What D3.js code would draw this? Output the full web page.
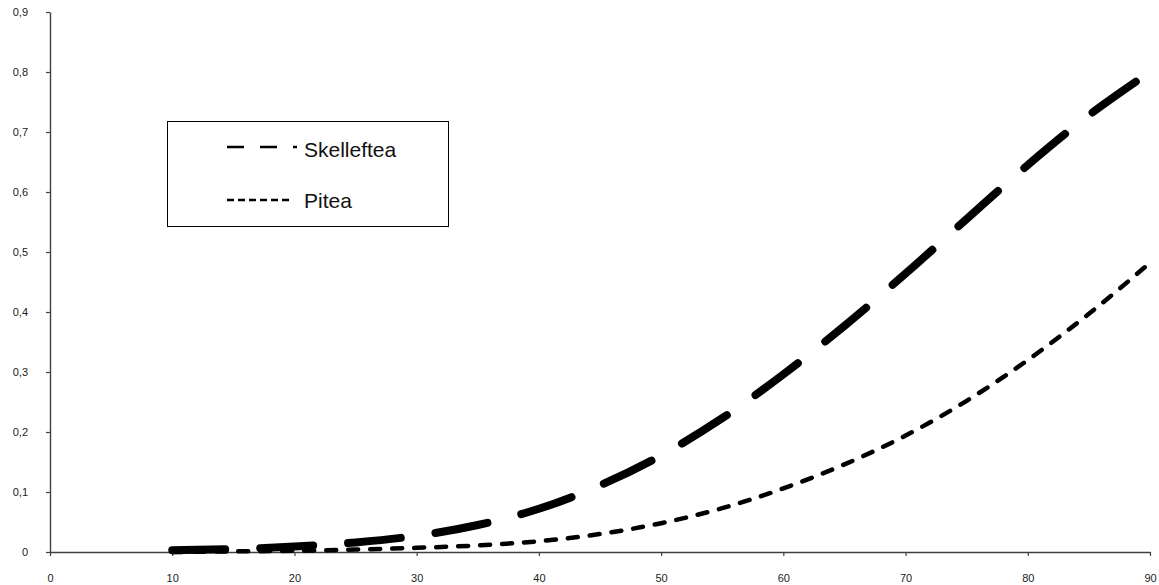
<!DOCTYPE html>
<html>
<head>
<meta charset="utf-8">
<script src="https://cdn.jsdelivr.net/npm/d3@7"></script>
<style>
	body { margin: 0; background: #fff; }
	svg { display: block; font-family: "Liberation Sans", Arial, sans-serif; }
</style>
</head>
<body>
<svg width="1159" height="585"></svg>
<script>

	// values
	var skelleftea_x = [10, 15, 20, 25, 30, 35, 40, 45, 50, 55, 60, 65, 70, 75, 80, 85, 89];
	var skelleftea_y = [0.003, 0.005, 0.009, 0.016, 0.027, 0.045, 0.072, 0.111, 0.161, 0.223, 0.296, 0.377, 0.464, 0.555, 0.645, 0.728, 0.786];

	var pitea_x = [10, 15, 20, 25, 30, 35, 40, 45, 50, 55, 60, 65, 70, 75, 80, 85, 90];
	var pitea_y = [0.000, 0.001, 0.002, 0.004, 0.007, 0.011, 0.018, 0.030, 0.048, 0.073, 0.106, 0.146, 0.194, 0.252, 0.320, 0.397, 0.482];

	var x_ticks = [0, 10, 20, 30, 40, 50, 60, 70, 80, 90];
	var x_tick_labels = ["0", "10", "20", "30", "40", "50", "60", "70", "80", "90"];
	var y_ticks = [0, 0.1, 0.2, 0.3, 0.4, 0.5, 0.6, 0.7, 0.8, 0.9];
	var y_tick_labels = ["0", "0,1", "0,2", "0,3", "0,4", "0,5", "0,6", "0,7", "0,8", "0,9"];

	var series_names = ["Skelleftea", "Pitea"];

	var svg = d3.select("svg");

	var x = d3.scaleLinear().domain([0, 90]).range([50, 1150]);
	var y = d3.scaleLinear().domain([0, 0.9]).range([552, 12]);

	function zip(xs, ys){
		return xs.map(function(v, i){ return [v, ys[i]]; });
	}

	var line = d3.line()
		.x(function(d){ return x(d[0]); })
		.y(function(d){ return y(d[1]); })
		.curve(d3.curveMonotoneX);

	// axes
	var x_axis = svg.append("g")
		.attr("transform", "translate(0," + y(0) + ")")
		.call(d3.axisBottom(x)
			.tickValues(x_ticks)
			.tickFormat(function(d, i){ return x_tick_labels[i]; })
			.tickSize(4)
			.tickSizeOuter(0)
			.tickPadding(18));

	var y_axis = svg.append("g")
		.attr("transform", "translate(" + x(0) + ",0)")
		.call(d3.axisLeft(y)
			.tickValues(y_ticks)
			.tickFormat(function(d, i){ return y_tick_labels[i]; })
			.tickSize(4)
			.tickSizeOuter(0)
			.tickPadding(18));

	[x_axis, y_axis].forEach(function(a){
		a.select(".domain").attr("stroke", "#404040").attr("stroke-width", 1.4);
		a.selectAll(".tick line").attr("stroke", "#404040").attr("stroke-width", 1.2);
		a.selectAll(".tick text").attr("fill", "#222").style("font-size", "11px").style("font-family", "'Liberation Sans', Arial, sans-serif");
	});

	// curves
	svg.append("path")
		.datum(zip(pitea_x, pitea_y))
		.attr("d", line)
		.attr("fill", "none")
		.attr("stroke", "#000")
		.attr("stroke-width", 4.5)
		.attr("stroke-linecap", "round")
		.attr("stroke-dasharray", "10,12");

	svg.append("path")
		.datum(zip(skelleftea_x, skelleftea_y))
		.attr("d", line)
		.attr("fill", "none")
		.attr("stroke", "#000")
		.attr("stroke-width", 8)
		.attr("stroke-linecap", "round")
		.attr("stroke-dasharray", "53,35");

	// legend
	var legend = svg.append("g");

	legend.append("rect")
		.attr("x", 167.5).attr("y", 121.5)
		.attr("width", 281).attr("height", 105)
		.attr("fill", "#fff")
		.attr("stroke", "#000")
		.attr("stroke-width", 1);

	var legend_styles = [
		{ y: 147, dash: "17,16", end: 297, base: 157 },
		{ y: 200, dash: "7,4", end: 290, base: 208 }
	];

	series_names.forEach(function(name, i){
		var s = legend_styles[i];
		legend.append("line")
			.attr("x1", 227).attr("x2", s.end)
			.attr("y1", s.y).attr("y2", s.y)
			.attr("stroke", "#000")
			.attr("stroke-width", 2.5)
			.attr("stroke-dasharray", s.dash);
		legend.append("text")
			.attr("x", 304).attr("y", s.base)
			.attr("fill", "#111")
			.style("font-size", "21px")
			.text(name);
	});

</script>
</body>
</html>
